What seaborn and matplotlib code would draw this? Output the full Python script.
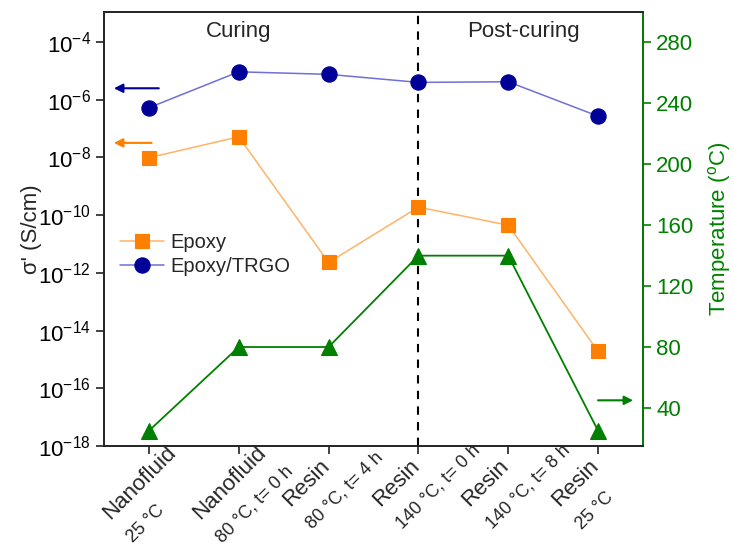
import numpy as np
import pandas as pd
import matplotlib
matplotlib.use("Agg")
import matplotlib.pyplot as plt
import seaborn as sns
from matplotlib.ticker import FixedLocator, NullLocator, LogFormatterSciNotation
from matplotlib.font_manager import FontProperties

# ---------------- data ----------------
stage = ["Nanofluid", "Nanofluid", "Resin", "Resin", "Resin", "Resin"]
condition = ["25 \u00b0C", "80 \u00b0C, t= 0 h", "80 \u00b0C, t= 4 h",
             "140 \u00b0C, t= 0 h", "140 \u00b0C, t= 8 h", "25 \u00b0C"]
epoxy = [9.8e-9, 5.2e-8, 2.3e-12, 1.9e-10, 4.5e-11, 1.9e-15]
epoxy_trgo = [5.3e-7, 9.3e-6, 7.6e-6, 4.0e-6, 4.2e-6, 2.7e-7]
temperature = [25, 80, 80, 140, 140, 25]
left_ticks = [1e-18, 1e-16, 1e-14, 1e-12, 1e-10, 1e-8, 1e-6, 1e-4]
right_ticks = [40, 80, 120, 160, 200, 240, 280]
phase_labels = ["Curing", "Post-curing"]

# ---------------- style ----------------
sns.set_theme(style="ticks")
plt.rcParams["font.family"] = ["Liberation Sans", "DejaVu Sans"]
plt.rcParams["mathtext.fontset"] = "custom"
plt.rcParams["mathtext.rm"] = "Liberation Sans"
plt.rcParams["mathtext.it"] = "Liberation Sans:italic"
plt.rcParams["mathtext.bf"] = "Liberation Sans:bold"

ORANGE = "#FF8000"
ORANGE_L = "#FFB366"
NAVY = "#000099"
NAVY_L = "#6F6FD8"
GREEN = "#008000"

fig = plt.figure(figsize=(7.34, 5.44), dpi=100)
ax = fig.add_axes([104 / 734, 1 - 446 / 544, (643 - 104) / 734, (446 - 12) / 544])
ax2 = ax.twinx()

xpos = np.arange(len(stage))
df = pd.DataFrame({"x": xpos, "epoxy": epoxy, "trgo": epoxy_trgo, "temp": temperature})

ax.set_yscale("log")
sns.lineplot(data=df, x="x", y="epoxy", ax=ax, color=ORANGE_L, lw=1.1,
             marker="s", markersize=10, markerfacecolor=ORANGE,
             markeredgecolor=ORANGE, markeredgewidth=0.8, label="Epoxy", zorder=3)
sns.lineplot(data=df, x="x", y="trgo", ax=ax, color=NAVY_L, lw=1.1,
             marker="o", markersize=11, markerfacecolor=NAVY,
             markeredgecolor=NAVY, markeredgewidth=0.8, label="Epoxy/TRGO", zorder=3)
sns.lineplot(data=df, x="x", y="temp", ax=ax2, color=GREEN, lw=1.3,
             marker="^", markersize=12, markerfacecolor=GREEN,
             markeredgecolor=GREEN, markeredgewidth=0.8, legend=False, zorder=3)

# axes limits / ticks
ax.set_xlim(-0.5, len(stage) - 0.5)
ax.set_ylim(1e-18, 1.1e-3)
ax2.set_ylim(15, 300)
ax.yaxis.set_major_locator(FixedLocator(left_ticks))
ax.yaxis.set_major_formatter(LogFormatterSciNotation())
ax.yaxis.set_minor_locator(NullLocator())
ax2.yaxis.set_major_locator(FixedLocator(right_ticks))
ax.set_xticks(xpos)
ax.set_xticklabels([])
ax.set_xlabel("")
ax2.set_xlabel("")

ax.tick_params(axis="both", direction="out", length=6, width=1.2, labelsize=16,
               colors="#222222", labelcolor="black")
ax2.tick_params(axis="y", direction="out", length=6, width=1.2, labelsize=16,
                colors=GREEN, labelcolor=GREEN)
for a in (ax, ax2):
    for sp in a.spines.values():
        sp.set_linewidth(1.2)
        sp.set_color("#222222")
ax2.spines["right"].set_color(GREEN)

ax.set_ylabel("\u03c3' (S/cm)", fontsize=16, labelpad=-3)
ax2.set_ylabel("Temperature ($^\\mathregular{o}$C)", fontsize=16, color=GREEN, labelpad=9)

# dashed separator
ax.axvline(3, color="black", lw=1.5, ls=(0, (4, 3.5)), zorder=2)

# phase texts
ax.text(1.0, 0.954, phase_labels[0], transform=ax.get_xaxis_transform(),
        ha="center", va="center", fontsize=16)
ax.text(4.17, 0.954, phase_labels[1], transform=ax.get_xaxis_transform(),
        ha="center", va="center", fontsize=16)

# axis-pointer arrows
ax.annotate("", xy=(-0.39, 2.5e-6), xytext=(0.11, 2.5e-6),
            arrowprops=dict(arrowstyle="-|>", color=NAVY, lw=1.5, mutation_scale=13,
                            shrinkA=0, shrinkB=0))
ax.annotate("", xy=(-0.39, 3.2e-8), xytext=(0.03, 3.2e-8),
            arrowprops=dict(arrowstyle="-|>", color=ORANGE, lw=1.5, mutation_scale=13,
                            shrinkA=0, shrinkB=0))
ax2.annotate("", xy=(5.39, 45), xytext=(5.0, 45),
             arrowprops=dict(arrowstyle="-|>", color=GREEN, lw=1.5, mutation_scale=13,
                             shrinkA=0, shrinkB=0))

# legend
leg = ax.legend(loc="center left", bbox_to_anchor=(0.03, 0.442), frameon=False,
                fontsize=14.5, handlelength=2.2, handletextpad=0.3, labelspacing=0.25,
                borderpad=0, borderaxespad=0)

# ---------------- two-line rotated x tick labels ----------------
fig.canvas.draw()
r = fig.canvas.get_renderer()
FM, FS = 16, 13
fpm = FontProperties(family=["Liberation Sans"], size=FM)
u = np.array([1.0, 1.0]) / np.sqrt(2)       # along text (display coords)
dvec = np.array([1.0, -1.0]) / np.sqrt(2)   # "down" in text frame
_, hl, dl = r.get_text_width_height_descent("lp", fpm, ismath=False)
asc_m = hl - dl
hm = hl
y_axis = ax.transAxes.transform((0, 0))[1]
Yc = y_axis - 37          # vertical centre of the rotated main line
BASE_GAP = 32             # baseline-to-baseline distance of the two lines
inv = fig.transFigure.inverted()
for i, (m, s) in enumerate(zip(stage, condition)):
    wm, _, _ = r.get_text_width_height_descent(m, fpm, ismath=False)
    tx = ax.transData.transform((xpos[i], 1e-18))[0]
    P = np.array([tx - 50, Yc - (wm - hm) / (2 * np.sqrt(2))])   # top-left corner
    Bm = P + asc_m * dvec
    Bs = Bm + BASE_GAP * dvec
    fig.text(*inv.transform(Bm), m, fontsize=FM, rotation=45, rotation_mode="anchor",
             ha="left", va="baseline")
    fig.text(*inv.transform(Bs), s, fontsize=FS, rotation=45, rotation_mode="anchor",
             ha="left", va="baseline")

fig.savefig("out.png", dpi=100)
